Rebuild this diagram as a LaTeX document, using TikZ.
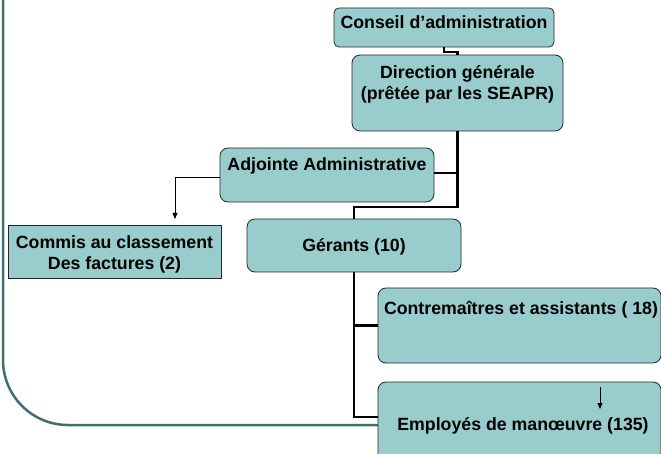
\documentclass[tikz,border=0pt]{standalone}
\usepackage{fontspec}
\setmainfont{Liberation Sans}
\usetikzlibrary{arrows.meta}
\definecolor{boxfill}{HTML}{99CCCC}
\definecolor{frameteal}{HTML}{3E7070}
\tikzset{
  box/.style={draw=black!85, fill=boxfill, line width=0.8bp, rounded corners=8bp, inner sep=0pt, outer sep=0pt},
  lbl/.style={font=\fontsize{17.8}{21}\selectfont\bfseries, inner sep=0pt, anchor=base},
  conn/.style={line width=2.8bp, black},
  thinarrow/.style={line width=0.8bp, black, -{Triangle[length=6bp,width=5bp]}},
}
\newcommand{\twolines}[2]{\begin{tabular}[t]{@{}c@{}}#1\\#2\end{tabular}}
\begin{document}
\begin{tikzpicture}[x=1bp,y=-1bp]
\useasboundingbox (0,0) rectangle (661,454);
% outer frame
\draw[frameteal, line width=2.5bp, rounded corners=65bp] (3,-5) -- (3,425) -- (380,425);
% boxes
\node[box, rounded corners=5bp, minimum width=220bp, minimum height=39bp] (ca) at (444,27.5) {};
\node[box, minimum width=211bp, minimum height=76bp] (dg) at (457.5,93) {};
\node[box, minimum width=214bp, minimum height=54bp] (adj) at (327,175) {};
\node[box, rounded corners=0pt, minimum width=213bp, minimum height=53bp] (com) at (114.5,251.5) {};
\node[box, minimum width=214bp, minimum height=53bp] (ger) at (354,245.5) {};
\node[box, minimum width=283bp, minimum height=75bp] (con) at (519.5,325.5) {};
\node[box, minimum width=283bp, minimum height=88bp] (emp) at (519.5,426) {};
% texts
\node[lbl] (cat) at (444,29) {Conseil d’administration};
\node[lbl] (dgt) at (457.5,79) {\twolines{Direction générale}{(prêtée par les SEAPR)}};
\node[lbl] (adjt) at (327,171) {Adjointe Administrative};
\node[lbl] (comt) at (114.5,248.5) {\twolines{Commis au classement}{Des factures (2)}};
\node[lbl] (gert) at (354,252) {Gérants (10)};
\node[lbl] (cont) at (521,315) {Contremaîtres et assistants ( 18)};
\node[lbl] (empt) at (523,430) {Employés de manœuvre (135)};
% connectors
\draw[conn] (ca.south) -- ++(0,5) -| (dg.north);
\draw[conn] (dg.south) -- ++(0,76) -| (ger.north);
\draw[conn] ([yshift=2bp]adj.east) -- ([yshift=2bp]adj.east -| dg.south);
\draw[conn] (ger.south) |- ([yshift=9bp]emp.west);
\draw[conn] (ger.south |- con.west) -- (con.west);
\draw[thinarrow, shorten >=6bp] ([yshift=-2bp]adj.west) -| ([xshift=60.5bp]com.north);
\coordinate (ea) at (600,387);
\coordinate (eb) at (600,409);
\draw[thinarrow] (ea) -- (eb);
\end{tikzpicture}
\end{document}
